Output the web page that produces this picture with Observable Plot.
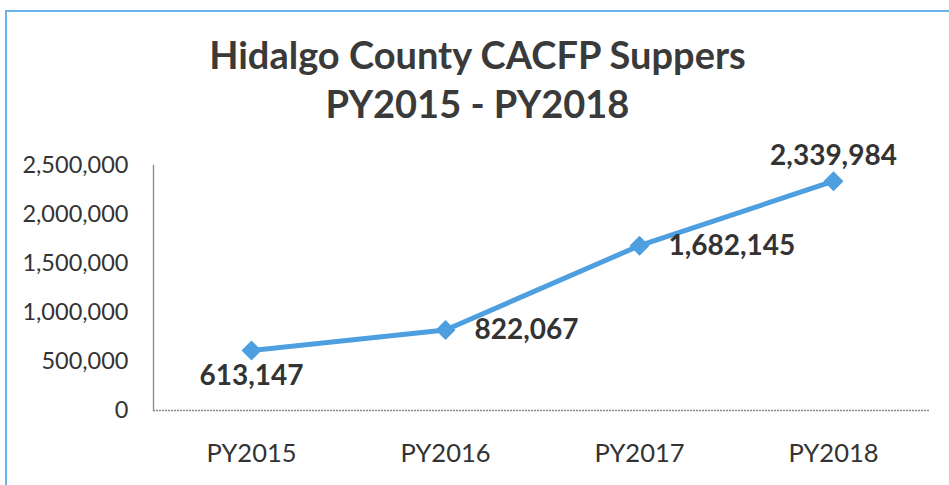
<!DOCTYPE html>
<html>
<head>
<meta charset="utf-8">
<script src="https://cdn.jsdelivr.net/npm/d3@7"></script>
<script src="https://cdn.jsdelivr.net/npm/@observablehq/plot@0.6"></script>
<style>
  html, body { margin: 0; padding: 0; background: #fff; }
  #wrap { position: absolute; left: 5px; top: 10px; width: 944px; height: 475px;
          border-left: 2px solid #6ab4ea; border-top: 2px solid #6ab4ea; box-sizing: border-box; }
  #title { position: absolute; left: 0; top: 30px; width: 955px; text-align: center;
           font-family: Lato, "Open Sans", sans-serif; font-weight: 700; font-size: 38px;
           line-height: 49px; color: #3a3a3a; }
  #chart { position: absolute; left: 0; top: 140px; }
</style>
</head>
<body>
<div id="wrap"></div>
<div id="title">Hidalgo County CACFP Suppers<br>PY2015 - PY2018</div>
<div id="chart"></div>
<script>
const years = ["PY2015", "PY2016", "PY2017", "PY2018"];
const suppers = [613147, 822067, 1682145, 2339984];
const yTicks = [0, 500000, 1000000, 1500000, 2000000, 2500000];

const data = years.map((y, i) => ({year: y, value: suppers[i]}));
const fmt = d3.format(",");
const blue = "#4d9fe0";
const labelFont = {fontSize: 28, fontWeight: 700, fill: "#333", fontFamily: "Lato, sans-serif"};

const plot = Plot.plot({
  width: 949,
  height: 345,
  marginLeft: 153,
  marginRight: 19,
  marginTop: 25,
  marginBottom: 75,
  style: {fontFamily: "Lato, sans-serif", fontSize: "22px", color: "#333", background: "transparent", overflow: "visible"},
  x: {domain: years, type: "point", padding: 0.5, label: null},
  y: {domain: [0, 2500000], label: null},
  marks: [
    Plot.axisY({ticks: yTicks, tickSize: 0, tickPadding: 25, tickFormat: fmt, fontSize: 23.5, label: null}),
    Plot.axisX({tickSize: 0, tickPadding: 33, fontSize: 25.5, label: null}),
    Plot.ruleY([0], {stroke: "#888", strokeDasharray: "2,1", strokeWidth: 1.3}),
    Plot.frame({anchor: "left", stroke: "#888", strokeDasharray: "2,1", strokeWidth: 1.3}),
    Plot.line(data, {x: "year", y: "value", stroke: blue, strokeWidth: 5}),
    Plot.dot(data, {x: "year", y: "value", symbol: "diamond2", r: 9, fill: blue, stroke: null}),
    Plot.text(data, {filter: (d, i) => i === 0, x: "year", y: "value", text: d => fmt(d.value), dy: 26, ...labelFont}),
    Plot.text(data, {filter: (d, i) => i === 1 || i === 2, x: "year", y: "value", text: d => fmt(d.value), dx: 29, textAnchor: "start", ...labelFont}),
    Plot.text(data, {filter: (d, i) => i === 3, x: "year", y: "value", text: d => fmt(d.value), dy: -25, ...labelFont})
  ]
});
document.getElementById("chart").appendChild(plot);
</script>
</body>
</html>
